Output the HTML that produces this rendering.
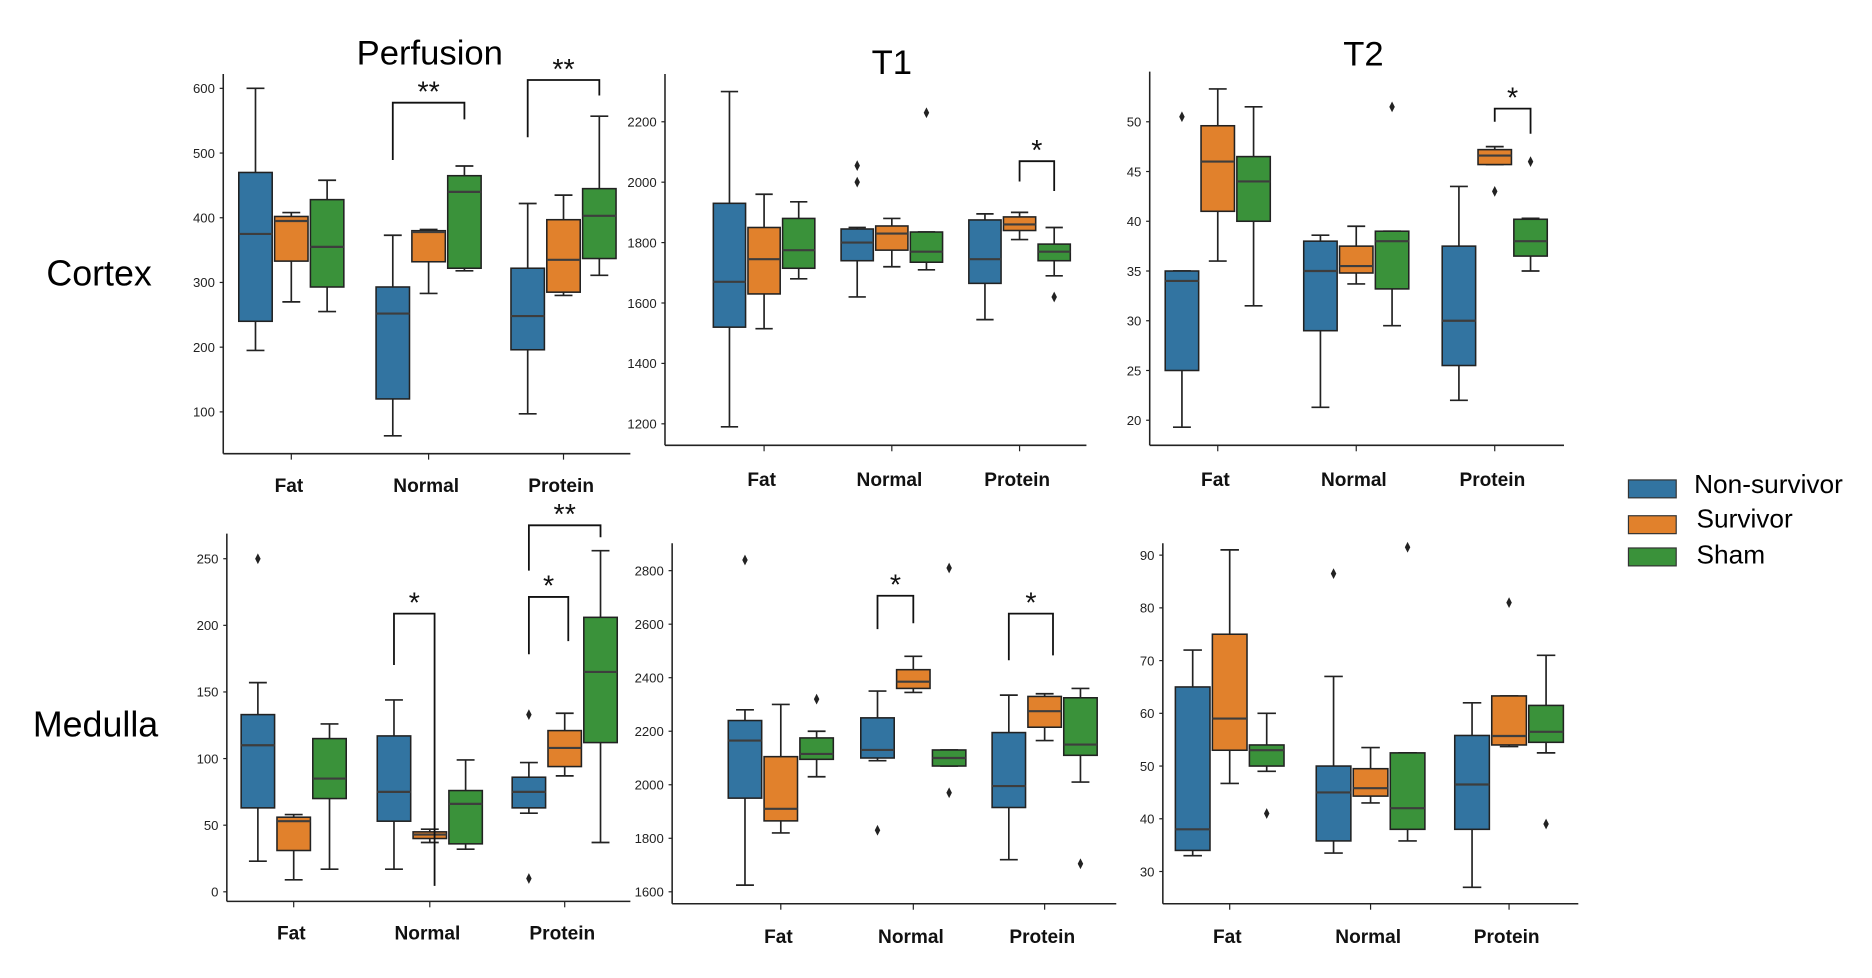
<!DOCTYPE html>
<html><head><meta charset="utf-8"><style>
html,body{margin:0;padding:0;background:#fff;}
svg{display:block;}
text{font-family:"Liberation Sans",sans-serif;}
</style></head><body>
<svg id="fig" width="1872" height="978" viewBox="0 0 1568 819.2" preserveAspectRatio="none" xmlns="http://www.w3.org/2000/svg">
<text x="360" y="54" font-size="29" text-anchor="middle">Perfusion</text>
<text x="747" y="62" font-size="29" text-anchor="middle">T1</text>
<text x="1142" y="55" font-size="29" text-anchor="middle">T2</text>
<text x="83" y="239" font-size="30" text-anchor="middle">Cortex</text>
<text x="80" y="617" font-size="30" text-anchor="middle">Medulla</text>
<g>
<rect x="1364" y="402" width="40" height="15" fill="#3274a1" stroke="#333" stroke-width="1"/>
<text x="1419" y="413" font-size="22">Non-survivor</text>
<rect x="1364" y="432" width="40" height="15" fill="#e1812c" stroke="#333" stroke-width="1"/>
<text x="1421" y="442" font-size="22">Survivor</text>
<rect x="1364" y="459" width="40" height="15" fill="#3a923a" stroke="#333" stroke-width="1"/>
<text x="1421" y="472" font-size="22">Sham</text>
</g>
</svg>
<script>
// categories and series
const categories = ["Fat","Normal","Protein"];
const seriesNames = ["Non-survivor","Survivor","Sham"];
// stats per category per series: [lowWhisker, q1, median, q3, highWhisker]
const perfCortexNS = [[195,240,375,470,600],[63,120,252,293,373],[97,196,248,322,422]];
const perfCortexS  = [[270,333,395,402,408],[283,332,378,380,382],[280,285,335,397,435]];
const perfCortexSh = [[255,293,355,428,458],[318,322,440,465,480],[311,337,403,445,557]];
const perfCortexOut = [[],[],[],[],[],[],[],[],[]];
const perfCortexTicks = [100,200,300,400,500,600];

const t1CortexNS = [[1190,1520,1670,1930,2300],[1620,1740,1800,1845,1850],[1545,1665,1745,1875,1895]];
const t1CortexS  = [[1515,1630,1745,1850,1960],[1720,1775,1830,1855,1880],[1810,1840,1860,1885,1900]];
const t1CortexSh = [[1680,1715,1775,1880,1935],[1710,1735,1770,1835,1835],[1690,1740,1770,1795,1850]];
const t1CortexOut = [[],[],[],[2000,2055],[],[2230],[],[],[1620]];
const t1CortexTicks = [1200,1400,1600,1800,2000,2200];

const t2CortexNS = [[19.3,25,34,35,35],[21.3,29,35,38,38.6],[22,25.5,30,37.5,43.5]];
const t2CortexS  = [[36,41,46,49.6,53.3],[33.7,34.8,35.5,37.5,39.5],[45.7,45.7,46.6,47.2,47.5]];
const t2CortexSh = [[31.5,40,44,46.5,51.5],[29.5,33.2,38,39,39],[35,36.5,38,40.2,40.3]];
const t2CortexOut = [[50.5],[],[],[],[],[51.5],[],[43],[46]];
const t2CortexTicks = [20,25,30,35,40,45,50];

const perfMedNS = [[23,63,110,133,157],[17,53,75,117,144],[59,63,75,86,97]];
const perfMedS  = [[9,31,53,56,58],[37,40,43,45,47],[87,94,108,121,134]];
const perfMedSh = [[17,70,85,115,126],[32,36,66,76,99],[37,112,165,206,256]];
const perfMedOut = [[250],[],[],[],[],[],[10,133],[],[]];
const perfMedTicks = [0,50,100,150,200,250];

const t1MedNS = [[1625,1950,2165,2240,2280],[2090,2100,2130,2250,2350],[1720,1915,1995,2195,2335]];
const t1MedS  = [[1820,1865,1910,2105,2300],[2345,2360,2385,2430,2480],[2165,2215,2275,2330,2340]];
const t1MedSh = [[2030,2095,2115,2175,2200],[2070,2070,2100,2130,2130],[2010,2110,2150,2325,2360]];
const t1MedOut = [[2840],[],[2320],[1830],[],[2810,1970],[],[],[1705]];
const t1MedTicks = [1600,1800,2000,2200,2400,2600,2800];

const t2MedNS = [[33,34,38,65,72],[33.5,35.8,45,50,67],[27,38,46.5,55.8,62]];
const t2MedS  = [[46.7,53,59,75,91],[43,44.3,45.8,49.5,53.5],[53.7,54,55.7,63.3,63.3]];
const t2MedSh = [[49,50,53,54,60],[35.8,38,42,52.5,52.5],[52.5,54.5,56.5,61.5,71]];
const t2MedOut = [[],[],[41],[86.5],[],[91.5],[],[81],[39]];
const t2MedTicks = [30,40,50,60,70,80,90];

const colors = ["#3274a1","#e1812c","#3a923a"];
const NS="http://www.w3.org/2000/svg";
const svg=document.getElementById('fig');
function mk(tag,attrs,parent){const e=document.createElementNS(NS,tag);for(const k in attrs)e.setAttribute(k,attrs[k]);(parent||svg).appendChild(e);return e;}

const panels = [
 {id:"perfusion-cortex",data:[perfCortexNS,perfCortexS,perfCortexSh],out:perfCortexOut,ticks:perfCortexTicks,ax:187,top:62,bot:380,right:528,cal:[600,74,100,345],cx:[244,359,472],bw:30,labY:412,
  br:[{a:0,b:2,cat:1,la:134,lb:100,top:86,s:"**"},{a:0,b:2,cat:2,la:115,lb:80,top:67,s:"**"}]},
 {id:"t1-cortex",data:[t1CortexNS,t1CortexS,t1CortexSh],out:t1CortexOut,ticks:t1CortexTicks,ax:557,top:62,bot:373,right:910,cal:[2200,102,1200,355],cx:[640,747,854],bw:29,labY:407,
  br:[{a:1,b:2,cat:2,la:152,lb:160,top:135,s:"*"}]},
 {id:"t2-cortex",data:[t2CortexNS,t2CortexS,t2CortexSh],out:t2CortexOut,ticks:t2CortexTicks,ax:963,top:60,bot:373,right:1310,cal:[50,102,20,352],cx:[1020,1136,1252],bw:30,labY:407,
  br:[{a:1,b:2,cat:2,la:102,lb:112,top:91,s:"*"}]},
 {id:"perfusion-medulla",data:[perfMedNS,perfMedS,perfMedSh],out:perfMedOut,ticks:perfMedTicks,ax:190,top:447,bot:755,right:528,cal:[250,468,0,747],cx:[246,360,473],bw:30,labY:787,
  br:[{a:0,b:1,cat:1,la:557,lb:742,top:514,s:"*",bx:364},{a:0,b:1,cat:2,la:548,lb:537,top:500,s:"*",bx:476},{a:0,b:2,cat:2,la:478,lb:450,top:440,s:"**"}]},
 {id:"t1-medulla",data:[t1MedNS,t1MedS,t1MedSh],out:t1MedOut,ticks:t1MedTicks,ax:563,top:455,bot:757,right:935,cal:[2800,478,1600,747],cx:[654,765,875],bw:30,labY:790,
  br:[{a:0,b:1,cat:1,la:527,lb:522,top:499,s:"*"},{a:0,b:2,cat:2,la:553,lb:549,top:514,s:"*",bx:882}]},
 {id:"t2-medulla",data:[t2MedNS,t2MedS,t2MedSh],out:t2MedOut,ticks:t2MedTicks,ax:974,top:455,bot:757,right:1322,cal:[90,465,30,730],cx:[1030,1148,1264],bw:31,labY:790,
  br:[]}
];

panels.forEach(p=>{
  const g=mk('g',{});
  
  
  const [v1,y1,v2,y2]=p.cal;
  const yS=v=>y1+(v-v1)*(y2-y1)/(v2-v1);
  const xS=(ci,si)=>p.cx[ci]+(si-1)*p.bw;
  const ya=mk('line',{x1:p.ax,y1:p.top,x2:p.ax,y2:p.bot,stroke:'#222','stroke-width':1.3},g);
  
  
  const xa=mk('line',{x1:p.ax,y1:p.bot,x2:p.right,y2:p.bot,stroke:'#222','stroke-width':1.3},g);
  
  
  p.ticks.forEach(t=>{
    const y=yS(t);
    mk('line',{x1:p.ax-3,y1:y,x2:p.ax,y2:y,stroke:'#222','stroke-width':1},g);
    const tl=mk('text',{x:p.ax-7,y:y+4,'font-size':11,'text-anchor':'end',fill:'#222'},g);
    tl.textContent=t;
    
    
  });
  categories.forEach((c,ci)=>{
    mk('line',{x1:p.cx[ci],y1:p.bot,x2:p.cx[ci],y2:p.bot+5,stroke:'#222','stroke-width':1},g);
    const cl=mk('text',{x:p.cx[ci]-2,y:p.labY,'font-size':16,'font-weight':'bold','text-anchor':'middle',fill:'#111'},g);
    cl.textContent=c;
    
    
  });
  p.data.forEach((ser,si)=>{
    ser.forEach((st,ci)=>{
      const x=xS(ci,si),w=p.bw;
      const bg=mk('g',{},g);
      
      
      mk('line',{x1:x,y1:yS(st[0]),x2:x,y2:yS(st[1]),stroke:'#222','stroke-width':1.4},bg);
      mk('line',{x1:x,y1:yS(st[3]),x2:x,y2:yS(st[4]),stroke:'#222','stroke-width':1.4},bg);
      mk('line',{x1:x-w*0.25,y1:yS(st[0]),x2:x+w*0.25,y2:yS(st[0]),stroke:'#222','stroke-width':1.4},bg);
      mk('line',{x1:x-w*0.25,y1:yS(st[4]),x2:x+w*0.25,y2:yS(st[4]),stroke:'#222','stroke-width':1.4},bg);
      mk('rect',{x:x-w/2+1,y:yS(st[3]),width:w-2,height:Math.max(1,yS(st[1])-yS(st[3])),fill:colors[si],stroke:'#222','stroke-width':1.3},bg);
      mk('line',{x1:x-w/2+1,y1:yS(st[2]),x2:x+w/2-1,y2:yS(st[2]),stroke:'#3d3d3d','stroke-width':1.8},bg);
      (p.out[ci*3+si]||[]).forEach(o=>{
        const yo=yS(o);
        const d=mk('path',{d:`M${x} ${yo-4.5} L${x+2.3} ${yo} L${x} ${yo+4.5} L${x-2.3} ${yo} Z`,fill:'#222'},bg);
        
        
      });
    });
  });
  p.br.forEach(b=>{
    const xa1=xS(b.cat,b.a), xb1=b.bx||xS(b.cat,b.b);
    const bgp=mk('g',{},g);
    
    
    mk('path',{d:`M${xa1} ${b.la} L${xa1} ${b.top} L${xb1} ${b.top} L${xb1} ${b.lb}`,fill:'none',stroke:'#111','stroke-width':1.5},bgp);
    const st=mk('text',{x:(xa1+xb1)/2,y:b.top-1,'font-size':24,'text-anchor':'middle',fill:'#111'},bgp);
    st.textContent=b.s;
  });
});
</script>
</body></html>
